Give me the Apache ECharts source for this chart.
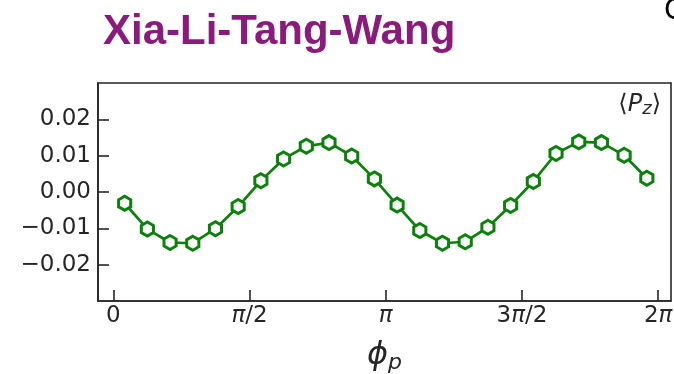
<!DOCTYPE html>
<html>
<head>
<meta charset="utf-8">
<script src="https://cdn.jsdelivr.net/npm/echarts@6/dist/echarts.min.js"></script>
<style>
html,body{margin:0;padding:0;background:#fff;}
#chart{width:674px;height:374px;}
</style>
</head>
<body>
<div id="chart"></div>
<script>
// phi_p values in units of pi
var phiOverPi = [0.0417, 0.125, 0.2083, 0.2917, 0.375, 0.4583, 0.5417, 0.625, 0.7083, 0.7917, 0.875, 0.9583,
                 1.0417, 1.125, 1.2083, 1.2917, 1.375, 1.4583, 1.5417, 1.625, 1.7083, 1.7917, 1.875, 1.9583];
// <P_z> values
var pz = [-0.0031, -0.0102, -0.0139, -0.0141, -0.0101, -0.0040, 0.0031, 0.0091, 0.0126, 0.0136, 0.0099, 0.0036,
          -0.0036, -0.0106, -0.0141, -0.0137, -0.0097, -0.0037, 0.0029, 0.0106, 0.0138, 0.0136, 0.0101, 0.0038];
var xTickOverPi = [0, 0.5, 1, 1.5, 2];
var xTickLabels = ['{r|0}', '{i|π}{r|/2}', '{i|π}', '{r|3}{i|π}{r|/2}', '{r|2}{i|π}'];
var yTicks = [-0.02, -0.01, 0.00, 0.01, 0.02];
var yTickLabels = ['\u22120.02', '\u22120.01', '0.00', '0.01', '0.02'];
var titleText = 'Xia-Li-Tang-Wang';

var PI = Math.PI;
var data = phiOverPi.map(function (p, i) { return [p * PI, pz[i]]; });
var xTickVals = xTickOverPi.map(function (v) { return v * PI; });

var axisColor = '#262626';
var hexPath = 'path://M0,-100 L86.6,-50 L86.6,50 L0,100 L-86.6,50 L-86.6,-50 Z';

var chart = echarts.init(document.getElementById('chart'));
chart.setOption({
  animation: false,
  backgroundColor: '#fff',
  grid: {
    left: 98, top: 83, right: 3, bottom: 73,
    outerBoundsMode: 'none',
    containLabel: false,
    show: true, borderColor: axisColor, borderWidth: 1.6, backgroundColor: 'transparent'
  },
  xAxis: {
    type: 'value',
    min: -0.0562 * PI,
    max: 2.047 * PI,
    splitLine: { show: false },
    axisLine: { onZero: false, lineStyle: { color: axisColor, width: 1.6 } },
    axisTick: { inside: true, length: 11, lineStyle: { color: axisColor, width: 1.6 }, customValues: xTickVals },
    axisLabel: {
      customValues: xTickVals,
      margin: 4,
      color: axisColor,
      fontFamily: 'DejaVu Sans',
      fontSize: 23,
      rich: {
        r: { fontFamily: 'DejaVu Sans', fontSize: 23, color: axisColor },
        i: { fontFamily: 'DejaVu Sans', fontStyle: 'italic', fontSize: 23, color: axisColor }
      },
      formatter: function (v) {
        for (var i = 0; i < xTickVals.length; i++) {
          if (Math.abs(v - xTickVals[i]) < 1e-6) return xTickLabels[i];
        }
        return '';
      }
    },
    name: '{a|ϕ}{b|p}',
    nameLocation: 'middle',
    nameGap: 37,
    nameTextStyle: {
      rich: {
        a: { fontFamily: 'DejaVu Sans', fontStyle: 'italic', fontSize: 32, color: axisColor },
        b: { fontFamily: 'DejaVu Sans', fontStyle: 'italic', fontSize: 22, color: axisColor, padding: [14, 0, 0, 0] }
      }
    }
  },
  yAxis: {
    type: 'value',
    min: -0.03,
    max: 0.03,
    splitLine: { show: false },
    axisLine: { show: true, onZero: false, lineStyle: { color: axisColor, width: 1.6 } },
    axisTick: { show: true, inside: true, length: 11, lineStyle: { color: axisColor, width: 1.6 }, customValues: yTicks },
    axisLabel: {
      customValues: yTicks,
      margin: 7,
      color: axisColor,
      fontFamily: 'DejaVu Sans',
      fontSize: 23,
      formatter: function (v) {
        for (var i = 0; i < yTicks.length; i++) {
          if (Math.abs(v - yTicks[i]) < 1e-9) return yTickLabels[i];
        }
        return '';
      }
    }
  },
  series: [{
    type: 'line',
    data: data,
    symbol: hexPath,
    symbolKeepAspect: true,
    symbolSize: 14,
    showAllSymbol: true,
    lineStyle: { color: '#0b800b', width: 2.7 },
    itemStyle: { color: '#ffffff', borderColor: '#0b800b', borderWidth: 3 },
    z: 3
  }],
  graphic: [
    {
      type: 'text', left: 103, top: 11,
      style: { text: titleText, fontFamily: 'Liberation Sans', fontWeight: 'bold', fontSize: 42, fill: '#8a1a7c' }
    },
    {
      type: 'text', left: 664, top: -2,
      style: { text: 'C', fontFamily: 'DejaVu Sans', fontSize: 28, fill: '#000' }
    },
    {
      type: 'text', right: 13, top: 93,
      style: {
        text: '{n|⟨}{i|P}{s|z}{n|⟩}',
        rich: {
          n: { fontFamily: 'DejaVu Sans', fontSize: 24, fill: axisColor, color: axisColor },
          i: { fontFamily: 'DejaVu Sans', fontStyle: 'italic', fontSize: 24, fill: axisColor, color: axisColor },
          s: { fontFamily: 'DejaVu Sans', fontStyle: 'italic', fontSize: 18, fill: axisColor, color: axisColor, padding: [8, 0, 0, 0] }
        }
      }
    }
  ]
});
</script>
</body>
</html>
